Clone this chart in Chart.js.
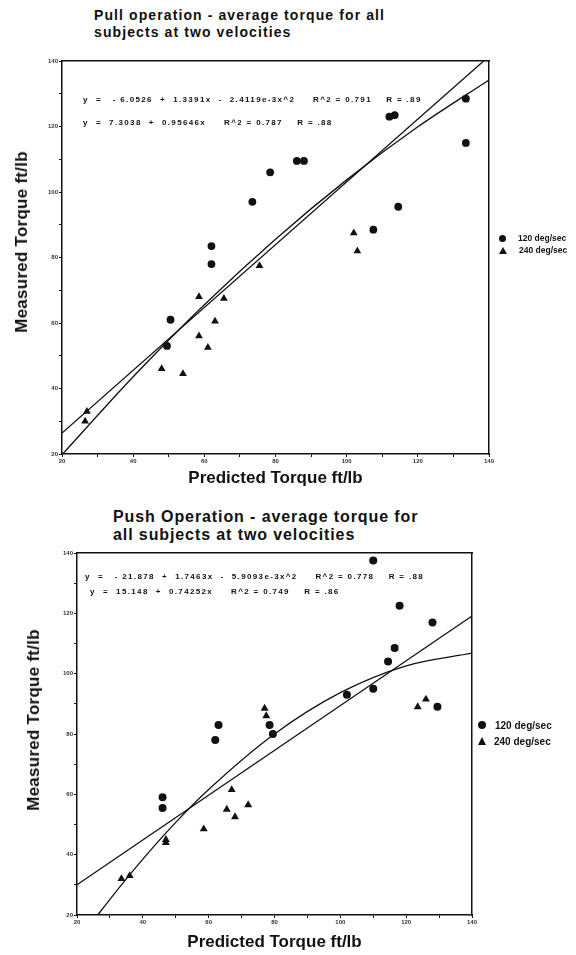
<!DOCTYPE html>
<html>
<head>
<meta charset="utf-8">
<script src="https://cdn.jsdelivr.net/npm/chart.js@4.4.1/dist/chart.umd.min.js"></script>
<style>
  html, body { margin:0; padding:0; background:#fff; }
  body { width:576px; height:955px; position:relative; overflow:hidden; font-family:"Liberation Sans", Arial, sans-serif; color:#111; }
  canvas { position:absolute; left:0; }
  .title { position:absolute; font-weight:bold; white-space:pre; }
  .ytitle { position:absolute; font-weight:bold; font-size:17px; letter-spacing:0.25px; white-space:nowrap; transform:translate(-50%,-50%) rotate(-90deg); }
  .eq { position:absolute; font-weight:bold; white-space:pre; font-size:8px; line-height:10px; letter-spacing:1.35px; }
  .leg { position:absolute; font-weight:bold; white-space:pre; display:flex; align-items:center; }
  .dot { display:inline-block; border-radius:50%; background:#111; }
  .tri { display:inline-block; width:0; height:0; border-style:solid; border-color:transparent transparent #111 transparent; }
</style>
</head>
<body>

<div class="title" style="left:94px; top:7px; font-size:14px; line-height:17px; letter-spacing:1.1px;">Pull operation - average torque for all
subjects at two velocities</div>
<canvas id="pullChart" width="576" height="495" style="top:0;width:576px;height:495px;"></canvas>
<div class="ytitle" style="left:22px; top:242px;">Measured Torque ft/lb</div>
<div class="eq" style="left:83px; top:95px;">y  =   - 6.0526  +  1.3391x  -  2.4119e-3x^2     R^2 = 0.791    R = .89</div>
<div class="eq" style="left:83px; top:118px;">y  =  7.3038  +  0.95646x     R^2 = 0.787    R = .88</div>
<div class="leg" style="left:499px; top:233px; font-size:8.5px; height:10px;"><span class="dot" style="width:7px;height:7px;"></span><span style="margin-left:12px;">120 deg/sec</span></div>
<div class="leg" style="left:499px; top:245px; font-size:8.5px; height:10px;"><span class="tri" style="border-width:0 4px 7px 4px;"></span><span style="margin-left:12px;">240 deg/sec</span></div>

<div class="title" style="left:113px; top:508px; font-size:16px; line-height:18px; letter-spacing:0.9px;">Push Operation - average torque for
all subjects at two velocities</div>
<canvas id="pushChart" width="576" height="460" style="top:495px;width:576px;height:460px;"></canvas>
<div class="ytitle" style="left:34px; top:720px;">Measured Torque ft/lb</div>
<div class="eq" style="left:85px; top:572px;">y  =   - 21.878  +  1.7463x  -  5.9093e-3x^2     R^2 = 0.778    R = .88</div>
<div class="eq" style="left:90px; top:587px;">y  =  15.148  +  0.74252x     R^2 = 0.749    R = .86</div>
<div class="leg" style="left:478px; top:719px; font-size:10px; height:12px;"><span class="dot" style="width:8px;height:8px;"></span><span style="margin-left:9px;">120 deg/sec</span></div>
<div class="leg" style="left:478px; top:735px; font-size:10px; height:12px;"><span class="tri" style="border-width:0 4.5px 8px 4.5px;"></span><span style="margin-left:8px;">240 deg/sec</span></div>

<script>
const FONT = '"Liberation Sans", Arial, sans-serif';
const INK = '#111';

// axis range shared by both plots (ft/lb)
const AXIS_MIN = 20, AXIS_MAX = 140, AXIS_STEP = 10, LABEL_EVERY = 20;
const X_TITLE = 'Predicted Torque ft/lb';
const SERIES_NAMES = ['120 deg/sec', '240 deg/sec'];

// Pull operation - predicted (x) vs measured (y)
const pullX120 = [49.5, 50.5, 62, 62, 73.5, 78.5, 86, 88, 107.5, 114.5, 112, 113.5, 133.5, 133.5];
const pullY120 = [53, 61, 78, 83.5, 97, 106, 109.5, 109.5, 88.5, 95.5, 123, 123.5, 128.5, 115];
const pullX240 = [26.5, 27, 48, 54, 58.5, 58.5, 61, 63, 65.5, 75.5, 102, 103];
const pullY240 = [30, 33, 46, 44.5, 68, 56, 52.5, 60.5, 67.5, 77.5, 87.5, 82];
// fitted lines
const pullLinX = [20, 138.5];
const pullLinY = [26.4, 140];
const pullQuadX = [20, 40, 60, 80, 100, 120, 140];
const pullQuadY = [19.8, 43.6, 65.6, 85.6, 103.7, 119.9, 134.2];

// Push operation
const pushX120 = [46, 46, 62, 63, 78.5, 79.5, 102, 110, 110, 114.5, 116.5, 118, 128, 129.5];
const pushY120 = [59, 55.5, 78, 83, 83, 80, 93, 95, 137.5, 104, 108.5, 122.5, 117, 89];
const pushX240 = [33.5, 36, 47, 47, 58.5, 65.5, 67, 68, 72, 77, 77.5, 123.5, 126];
const pushY240 = [32, 33, 45, 44, 48.5, 55, 61.5, 52.5, 56.5, 88.5, 86, 89, 91.5];
const pushLinX = [20, 140];
const pushLinY = [30.0, 119.1];
const pushQuadX = [26.3, 30, 40, 50, 60, 80, 100, 120, 140];
const pushQuadY = [20, 25.2, 38.5, 50.7, 61.6, 80.0, 93.7, 102.6, 106.8];

Chart.defaults.font.family = FONT;
Chart.defaults.color = INK;

function pts(xs, ys){ return xs.map((x, i) => ({ x, y: ys[i] })); }

function baseScale(){
  return {
    type: 'linear', min: AXIS_MIN, max: AXIS_MAX,
    border: { display: true, color: INK, width: 1.5 },
    grid: { display: true, drawOnChartArea: false, drawTicks: true, tickLength: 3, color: INK, lineWidth: 1 },
    ticks: { stepSize: AXIS_STEP, autoSkip: false, maxRotation: 0, padding: 1, color: '#333',
             font: { size: 6, weight: 'bold' },
             callback: v => v % LABEL_EVERY === 0 ? v : '' }
  };
}

function frameScale(pos){
  return {
    type: 'linear', min: AXIS_MIN, max: AXIS_MAX, position: pos,
    ticks: { display: false }, grid: { display: false },
    border: { display: true, color: INK, width: 1.5 },
    afterFit: s => { if (pos === 'top') s.height = 0; else s.width = 0; }
  };
}

function buildChart(id, o){
  const H = o.height;
  const x = baseScale(), y = baseScale();
  x.position = 'bottom';
  x.title = { display: true, text: X_TITLE, color: INK, font: { size: 17, weight: 'bold' }, padding: { top: 0, bottom: o.xTitlePad } };
  x.afterFit = s => { s.height = H - o.area.bottom; };
  y.position = 'left';
  y.afterFit = s => { s.width = o.area.left; };

  new Chart(document.getElementById(id), {
    type: 'scatter',
    data: { datasets: [
      { label: SERIES_NAMES[0], data: pts(o.x120, o.y120), pointStyle: 'circle', pointRadius: o.r, backgroundColor: INK, borderWidth: 0 },
      { label: SERIES_NAMES[1], data: pts(o.x240, o.y240), pointStyle: 'triangle', pointRadius: o.r + 0.6, backgroundColor: INK, borderWidth: 0 },
      { label: 'linear fit', data: pts(o.linX, o.linY), showLine: true, pointRadius: 0, borderColor: INK, borderWidth: 1.3 },
      { label: 'quadratic fit', data: pts(o.quadX, o.quadY), showLine: true, pointRadius: 0, borderColor: INK, borderWidth: 1.3, cubicInterpolationMode: 'monotone' }
    ]},
    options: {
      responsive: false, animation: false, events: [],
      layout: { padding: { left: 0, top: o.area.top, right: 576 - o.area.right, bottom: 0 } },
      plugins: { legend: { display: false }, tooltip: { enabled: false } },
      scales: { x, y, x2: frameScale('top'), y2: frameScale('right') }
    }
  });
}

buildChart('pullChart', {
  height: 495, area: { left: 62, right: 489, top: 61, bottom: 454 },
  xTitlePad: 6, r: 3.9,
  x120: pullX120, y120: pullY120, x240: pullX240, y240: pullY240,
  linX: pullLinX, linY: pullLinY, quadX: pullQuadX, quadY: pullQuadY
});

buildChart('pushChart', {
  height: 460, area: { left: 77, right: 472, top: 58, bottom: 420 },
  xTitlePad: 2, r: 4,
  x120: pushX120, y120: pushY120, x240: pushX240, y240: pushY240,
  linX: pushLinX, linY: pushLinY, quadX: pushQuadX, quadY: pushQuadY
});
</script>
</body>
</html>
